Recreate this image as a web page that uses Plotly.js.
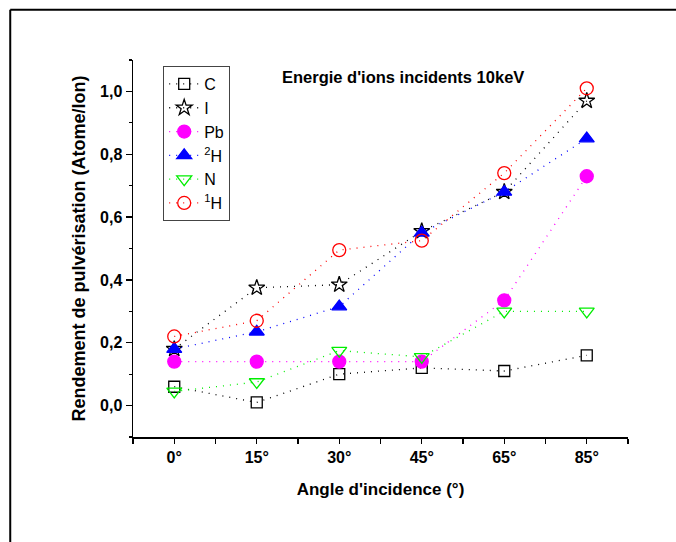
<!DOCTYPE html>
<html>
<head>
<meta charset="utf-8">
<script src="https://cdn.plot.ly/plotly-3.0.1.min.js"></script>
<style>html,body{margin:0;padding:0;background:#fff}#chart{width:676px;height:542px}</style>
</head>
<body>
<div id="chart"></div>
<script>
const angles = ["0°", "15°", "30°", "45°", "65°", "85°"];
const seriesNames = ["C", "I", "Pb", "<sup>2</sup>H", "N", "<sup>1</sup>H"];
const valC  = [0.06, 0.01, 0.10, 0.12, 0.11, 0.16];
const valI  = [0.18, 0.375, 0.385, 0.555, 0.68, 0.97];
const valPb = [0.14, 0.14, 0.14, 0.14, 0.335, 0.73];
const valH2 = [0.18, 0.235, 0.315, 0.55, 0.68, 0.85];
const valN  = [0.045, 0.075, 0.175, 0.155, 0.30, 0.30];
const valH1 = [0.22, 0.27, 0.495, 0.525, 0.74, 1.01];

const xIdx = angles.map((a, i) => i);
const styles = [
  {color: "#000000", symbol: "square-open", size: 11},
  {color: "#000000", symbol: "star-open", size: 12},
  {color: "#ff00ff", symbol: "circle", size: 13},
  {color: "#0000ff", symbol: "triangle-up", size: 13},
  {color: "#00ee00", symbol: "triangle-down-open", size: 13},
  {color: "#ff0000", symbol: "circle-open", size: 13}
];
const allVals = [valC, valI, valPb, valH2, valN, valH1];
const traces = allVals.map((v, k) => ({
  type: "scatter", mode: "lines+markers",
  x: xIdx, y: v, name: seriesNames[k],
  line: {color: styles[k].color, width: 1.3, dash: "1px,6px"},
  marker: {symbol: styles[k].symbol, size: styles[k].size, color: styles[k].color,
           line: {color: styles[k].color, width: 1.3}}
}));

const font = "Arial, 'Liberation Sans', sans-serif";
const layout = {
  width: 676, height: 542,
  margin: {l: 133, r: 48, t: 60, b: 105},
  paper_bgcolor: "#fff", plot_bgcolor: "#fff",
  showlegend: true,
  legend: {x: 0.061, y: 0.984, xanchor: "left", yanchor: "top",
           bordercolor: "#444", borderwidth: 1, bgcolor: "rgba(255,255,255,0)",
           font: {family: font, size: 16, color: "#000"}, tracegroupgap: 0, itemwidth: 30},
  xaxis: {
    range: [-0.5, 5.5], tickmode: "array", tickvals: xIdx, ticktext: angles,
    showgrid: false, zeroline: false, showline: true, linecolor: "#000", linewidth: 1.5,
    ticks: "outside", ticklen: 5, tickwidth: 1.2, tickcolor: "#000",
    minor: {dtick: 0.5, tick0: -0.5, ticks: "outside", ticklen: 5, tickwidth: 1.2, tickcolor: "#000", showgrid: false},
    tickfont: {family: font, size: 16, color: "#000", weight: "bold"},
    title: {text: "<b>Angle d'incidence (°)</b>", font: {family: font, size: 17, color: "#000"}, standoff: 18}
  },
  yaxis: {
    range: [-0.1, 1.1], tickmode: "array", tickvals: [0, 0.2, 0.4, 0.6, 0.8, 1.0],
    ticktext: ["0,0", "0,2", "0,4", "0,6", "0,8", "1,0"],
    showgrid: false, zeroline: false, showline: true, linecolor: "#000", linewidth: 1.5,
    ticks: "outside", ticklen: 6, tickwidth: 1.2, tickcolor: "#000",
    minor: {dtick: 0.1, tick0: 0, ticks: "outside", ticklen: 3, tickwidth: 1.2, tickcolor: "#000", showgrid: false},
    tickfont: {family: font, size: 16, color: "#000", weight: "bold"},
    title: {text: "<b>Rendement de pulvérisation (Atome/Ion)</b>", font: {family: font, size: 18, color: "#000"}, standoff: 9}
  },
  annotations: [{
    xref: "paper", yref: "paper", x: 0.545, y: 0.955, xanchor: "center", yanchor: "middle",
    text: "<b>Energie d'ions incidents 10keV</b>", showarrow: false,
    font: {family: font, size: 16.5, color: "#000"}
  }],
  shapes: [
    {type: "line", xref: "paper", yref: "paper", x0: -0.248, x1: 1.2, y0: 1.133, y1: 1.133,
     line: {color: "#000", width: 2}, layer: "below"},
    {type: "line", xref: "paper", yref: "paper", x0: -0.248, x1: -0.248, y0: -0.4, y1: 1.133,
     line: {color: "#000", width: 2}, layer: "below"}
  ]
};
Plotly.newPlot("chart", traces, layout, {displayModeBar: false, staticPlot: true});
</script>
</body>
</html>
